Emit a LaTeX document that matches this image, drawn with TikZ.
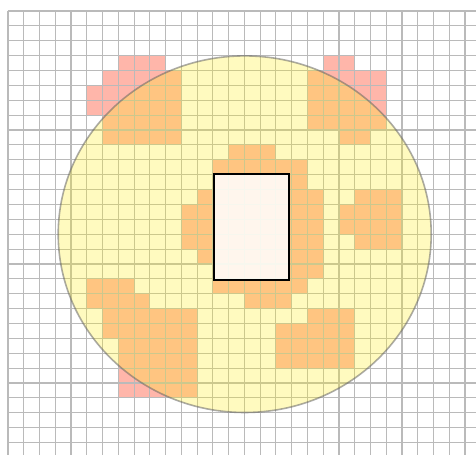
\documentclass[tikz,border=0pt]{standalone}
\definecolor{cellpink}{RGB}{255,182,170}
\definecolor{gridgray}{RGB}{186,186,186}
\definecolor{zoneyellow}{RGB}{255,238,20}
\tikzset{
  cell/.style={fill=cellpink},
  gridline/.style={draw=gridgray, line width=1.1pt},
  zone/.style={fill=zoneyellow, fill opacity=0.27, draw=black!60, draw opacity=0.55, line width=1.6pt},
  box/.style={fill=white, fill opacity=0.86, draw=black, line width=2.2pt}
}
\begin{document}
\begin{tikzpicture}[x=15.76pt, y=-14.88pt]
  \useasboundingbox (-0.5076,-0.7392) rectangle (29.696,29.839);
  \fill[white] (-0.5076,-0.7392) rectangle (29.696,29.839);
  % coloured cells: row / first column / last column
  \foreach \r/\a/\b in {
     3/7/9, 4/6/10, 5/5/10, 6/5/10, 7/6/10, 8/6/10,
     3/20/21, 4/19/23, 5/19/23, 6/19/23, 7/19/23, 8/21/22,
     9/14/16, 10/13/18, 11/13/18, 12/12/19, 13/11/19, 14/11/19,
     15/11/19, 16/12/19, 17/13/19, 18/13/18, 19/15/17,
     12/22/24, 13/21/24, 14/21/24, 15/22/24,
     18/5/7, 19/5/8, 20/6/11, 21/6/11, 22/7/11, 23/7/11, 24/7/11, 25/7/11,
     20/19/21, 21/17/21, 22/17/21, 23/17/21}
    \fill[cell] (\a,\r) rectangle ({\b+1},{\r+1});
  % grid
  \foreach \i in {0,...,29}
    \draw[gridline] (\i,0) -- (\i,29.839);
  \foreach \j in {0,...,29}
    \draw[gridline] (0,\j) -- (29.696,\j);
  % zone
  \coordinate (c) at (15.02,15);
  \draw[zone] (c) ellipse [x radius=186.5pt, y radius=178.3pt];
  % central box
  \draw[box] (13.07,10.93) rectangle (17.83,18.06);
\end{tikzpicture}
\end{document}
